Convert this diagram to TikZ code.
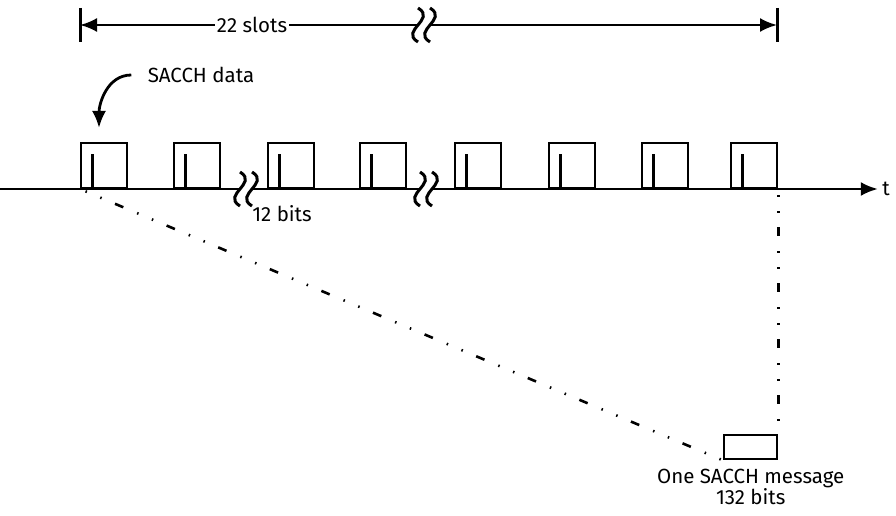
\documentclass[tikz,border=0pt]{standalone}
\usepackage{fontspec}
\setmainfont{Fira Sans}
\usetikzlibrary{positioning}
\usetikzlibrary{arrows.meta}
\tikzset{>={Latex[width=14pt,length=17pt]}}
\tikzset{
  slot/.style={draw, line width=2.4pt, minimum width=46pt, minimum height=45pt, inner sep=0pt, anchor=south west},
  bit/.style={line width=3pt},
  tick/.style={line width=3pt},
  dashdot/.style={line width=2.6pt, dash pattern=on 1.5pt off 14.5pt on 1.5pt off 14.5pt on 9pt off 15pt, dash phase=50pt},
  brk/.pic={
    \fill[white] (-6,-17) .. controls +(10,6) and +(4,-5) .. (-6,0) .. controls +(-4,5) and +(-10,-6) .. (-6,17)
      -- (6,17) .. controls +(-10,-6) and +(-4,5) .. (6,0) .. controls +(4,-5) and +(10,6) .. (6,-17) -- cycle;
    \foreach \dx in {-6,6}
      \draw[line width=3pt] (\dx,-17) .. controls +(10,6) and +(4,-5) .. (\dx,0) .. controls +(-4,5) and +(-10,-6) .. (\dx,17);
  }
}

\begin{document}
\begin{tikzpicture}[x=1pt, y=-1pt, line width=2.4pt, font=\fontsize{20.5}{21}\selectfont]
\useasboundingbox (0,0) rectangle (896,516);
% time axis
\coordinate (a0) at (0,189);
\node (t) at (886,189) {t};
\draw[->] (a0) -- (t);
% slots with SACCH bits
\foreach \x [count=\i] in {80,173,267,359,454,548,641,730} {
  \node[slot] (s\i) at (\x,189) {};
  \draw[bit] ([xshift=12pt]s\i.south west) -- ([xshift=12pt,yshift=35pt]s\i.south west);
}
\pic at (246,189) {brk};
\pic at (426,189) {brk};
% 22 slots span
\coordinate (L) at (80,25);
\coordinate (R) at (777,25);
\draw[tick] (L) ++(0,-17) -- ++(0,34);
\draw[tick] (R) ++(0,-17) -- ++(0,34);
\draw[<->] (L) -- (R);
\node[fill=white, inner sep=2pt] (n22) at (252,25) {22 slots};
\pic at (424,25) {brk};
% labels
\node (sd) at (201,75) {SACCH data};
\coordinate (sdtip) at (99,128);
\draw[->, line width=2.8pt] ([xshift=-12pt]sd.west) to[out=180, in=90] (sdtip);
\node (nb) at (282,214) {12 bits};
% message
\node[draw, line width=2.4pt, minimum width=53pt, minimum height=24pt, inner sep=0pt, anchor=north west] (msg) at (723,434) {};
\node[below=4pt of msg, align=center] (msgtxt) {One SACCH message\\132 bits};
\draw[dashdot] (s1.south west) -- (msg.south west);
\draw[dashdot] (s8.south east) -- (msg.north east);
\end{tikzpicture}
\end{document}
